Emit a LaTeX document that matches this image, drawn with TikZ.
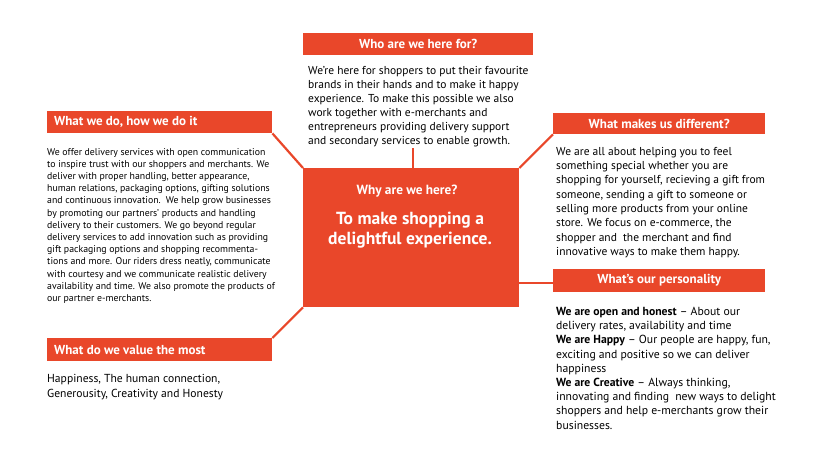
\documentclass[tikz,border=0pt]{standalone}
\usepackage{fontspec}
\setmainfont{PT Sans}
\definecolor{brand}{HTML}{E9472A}
\begin{document}
\begin{tikzpicture}[x=1pt,y=-1pt,
  hdr/.style={fill=brand, draw=none, anchor=north west, inner sep=0pt},
  hdrtext/.style={text=white, inner sep=0pt, font=\bfseries\fontsize{13}{14}\selectfont},
  body/.style={anchor=north west, inner sep=0pt, align=left, text=black},
  conn/.style={draw=brand, line width=2.2pt}
]
\useasboundingbox (0,0) rectangle (820,461);
\fill[white] (0,0) rectangle (820,461);

% central box
\node[fill=brand, anchor=north west, minimum width=216pt, minimum height=139pt, inner sep=0pt] (core) at (303,168) {};
\node[text=white, font=\bfseries\fontsize{13.3}{15}\selectfont] (why) at (407,191) {Why are we here?};
\node[text=white, font=\bfseries\fontsize{17.5}{20}\selectfont, align=center, anchor=north] (aim) at (410,209) {To make shopping a\\delightful experience.};

% headers
\node[hdr, minimum width=230pt, minimum height=22pt] (hfor) at (303,33) {};
\node[hdrtext] (hfort) at (hfor.center) {Who are we here for?};

\node[hdr, minimum width=225pt, minimum height=22pt] (hdo) at (47,111) {};
\node[hdrtext, anchor=west] (hdot) at ([xshift=7pt]hdo.west) {What we do, how we do it};

\node[hdr, minimum width=212pt, minimum height=21pt] (hdiff) at (553,113) {};
\node[hdrtext] (hdifft) at (hdiff.center) {What makes us different?};

\node[hdr, minimum width=212pt, minimum height=23pt] (hpers) at (553,269) {};
\node[hdrtext] (hperst) at (hpers.center) {What’s our personality};

\node[hdr, minimum width=225pt, minimum height=23pt] (hval) at (47,338) {};
\node[hdrtext, anchor=west] (hvalt) at ([xshift=7pt]hval.west) {What do we value the most};

% body texts
\node[body, font=\fontsize{11.5}{14}\selectfont] (tfor) at (308,66) {We’re here for shoppers to put their favourite\\brands in their hands and to make it happy\\experience. To make this possible we also\\work together with e-merchants and\\entrepreneurs providing delivery support\\and secondary services to enable growth.};

\node[body, font=\fontsize{9.8}{12.2}\selectfont] (tdo) at (47,148) {We offer delivery services with open communication\\to inspire trust with our shoppers and merchants. We\\deliver with proper handling, better appearance,\\human relations, packaging options, gifting solutions\\and continuous innovation.\ \ We help grow businesses\\by promoting our partners’ products and handling\\delivery to their customers. We go beyond regular\\delivery services to add innovation such as providing\\gift packaging options and shopping recommenta-\\tions and more. Our riders dress neatly, communicate\\with courtesy and we communicate realistic delivery\\availability and time. We also promote the products of\\our partner e-merchants.};

\node[body, font=\fontsize{11.5}{14.3}\selectfont] (tdiff) at (556,147) {We are all about helping you to feel\\something special whether you are\\shopping for yourself, recieving a gift from\\someone, sending a gift to someone or\\selling more products from your online\\store. We focus on e-commerce, the\\shopper and\ \ the merchant and find\\innovative ways to make them happy.};

\node[body, font=\fontsize{11.7}{14.2}\selectfont] (tpers) at (556,307) {\textbf{We are open and honest} – About our\\delivery rates, availability and time\\\textbf{We are Happy} – Our people are happy, fun,\\exciting and positive so we can deliver\\happiness\\\textbf{We are Creative} – Always thinking,\\innovating and finding\ \ new ways to delight\\shoppers and help e-merchants grow their\\businesses.};

\node[body, font=\fontsize{11.6}{15}\selectfont] (tval) at (47,374) {Happiness, The human connection,\\Generousity, Creativity and Honesty};

% connectors
\coordinate (fortop) at (413,148);
\draw[conn] (fortop) -- (413,168);
\draw[conn] (hdo.south east) -- (core.north west);
\draw[conn] (core.south west) -- (hval.north east);
\draw[conn] (core.north east) -- (hdiff.south west);
\draw[conn] (519,283) -- (hpers.west |- 0,283);
\end{tikzpicture}
\end{document}
